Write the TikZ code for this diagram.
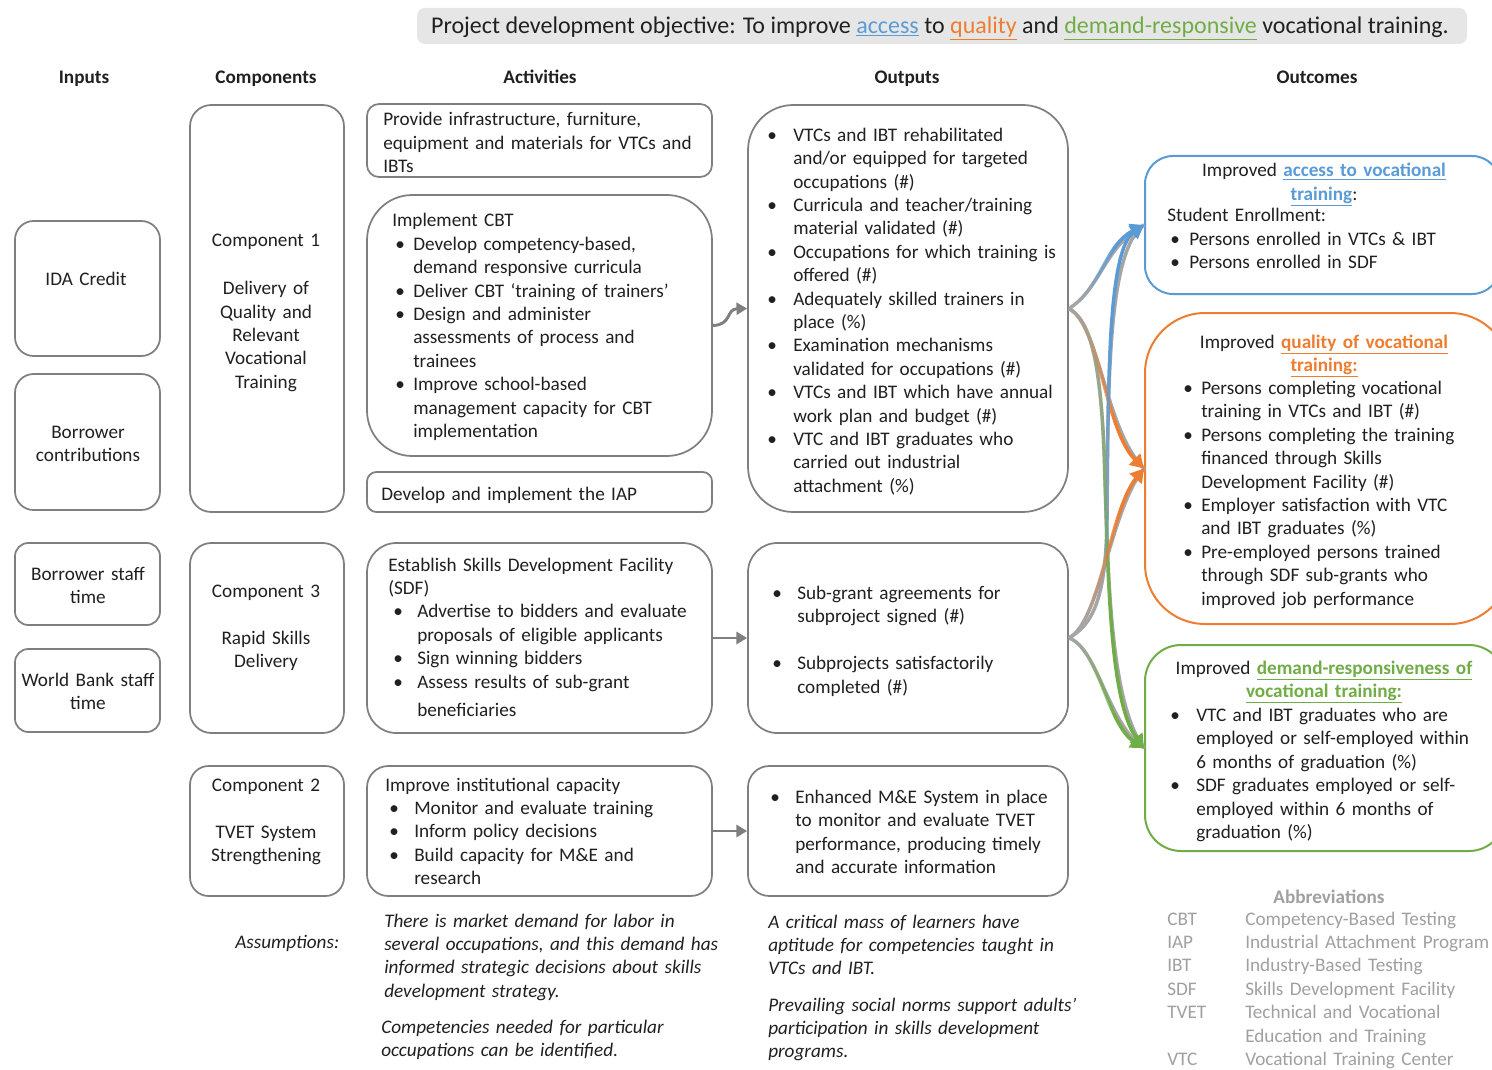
\documentclass[tikz,border=0pt]{standalone}
\usepackage{fontspec}
\setmainfont{Carlito}
\usetikzlibrary{arrows.meta,fit,fadings}
\definecolor{bord}{HTML}{7F7F7F}
\definecolor{curv}{HTML}{A5A5A5}
\definecolor{cblue}{HTML}{5B9BD5}
\definecolor{corange}{HTML}{ED7D31}
\definecolor{cgreen}{HTML}{70AD47}
\definecolor{bannerfill}{HTML}{E7E6E6}
\definecolor{abbrc}{HTML}{A0A0A0}
\definecolor{ink}{HTML}{202020}
\newcommand\fs{\fontsize{14.4}{17.55}\selectfont}
\newcommand\itm[2]{\par\leftskip=#1\relax\noindent\llap{\makebox[#2][l]{\textbullet}}}
\newcommand\gapline[1]{\par\vspace{#1}}
\newcommand\bu[2]{\textcolor{#1}{\textbf{\underline{#2}}}}
% fadings: opaque part of rampA lands at the page bottom of the path, rampB at the page top
\pgfdeclareverticalshading{rampASh}{100bp}{color(0bp)=(pgftransparent!0); color(40bp)=(pgftransparent!0); color(75bp)=(pgftransparent!100); color(100bp)=(pgftransparent!100)}
\pgfdeclarefading{rampA}{\pgfuseshading{rampASh}}
\pgfdeclareverticalshading{rampBSh}{100bp}{color(0bp)=(pgftransparent!100); color(30bp)=(pgftransparent!100); color(62bp)=(pgftransparent!0); color(100bp)=(pgftransparent!0)}
\pgfdeclarefading{rampB}{\pgfuseshading{rampBSh}}
\tikzset{
  box/.style={draw=bord, line width=1.3pt, rounded corners=#1, inner sep=0pt},
  box/.default=10pt,
  ocbox/.style={draw=#1, line width=1.5pt, inner sep=0pt},
  txt/.style={inner sep=0pt, anchor=base west, text width=#1, align=left, font=\fs, text=ink},
  ctxt/.style={inner sep=0pt, anchor=base, text width=#1, align=center, font=\fs, text=ink},
  hdr/.style={inner sep=0pt, anchor=base, font=\fs\bfseries, text=ink},
  garrow/.style={draw=bord, line width=2.2pt, -{Triangle[length=8pt,width=9pt]}},
  gcurve/.style={draw=curv, line width=2.6pt},
  ccurve/.style={draw=#1, line width=2.6pt, -{Triangle[length=10pt,width=11.5pt]}},
}
\begin{document}
\begin{tikzpicture}[x=0.75pt,y=-0.75pt]
\useasboundingbox (0,0) rectangle (1492,1070);
\fill[white] (0,0) rectangle (1492,1070);
\clip (0,0) rectangle (1492,1070);

% banner
\node[fill=bannerfill, rounded corners=6pt, inner sep=0pt, fit={(417,8)(1467,44)}] (ban) {};
\node[inner sep=0pt, font=\fontsize{18}{21}\selectfont, text=ink] (bantxt) at (940,28) {Project development objective: To improve \textcolor{cblue}{\underline{access}} to \textcolor{corange}{\underline{quality}} and \textcolor{cgreen}{\underline{demand-responsive}} vocational training.};

% headers
\node[hdr] (hin) at (84,84) {Inputs};
\node[hdr] (hco) at (266,84) {Components};
\node[hdr] (hac) at (540,84) {Activities};
\node[hdr] (hou) at (907,84) {Outputs};
\node[hdr] (hoc) at (1317,84) {Outcomes};

% inputs
\node[box=14pt, fit={(15,221)(160,356)}] (ida) {};
\node[box=14pt, fit={(15,374)(160,510)}] (bc) {};
\node[box=10pt, fit={(15,543)(160,625)}] (bst) {};
\node[box=10pt, fit={(15,649)(160,732)}] (wbst) {};
\node[ctxt=105pt] (tida) at (86,285) {IDA Credit};
\node[ctxt=105pt] (tbc) at (88,438) {Borrower\\contributions};
\node[ctxt=105pt] (tbst) at (88,580) {Borrower staff\\time};
\node[ctxt=105pt] (twbst) at (88,686) {World Bank staff\\time};

% components
\node[box=16pt, fit={(190,105)(344,512)}] (c1) {};
\node[box=16pt, fit={(190,543)(344,733)}] (c3) {};
\node[box=14pt, fit={(190,766)(344,896)}] (c2) {};
\node[ctxt=112pt] (tc1) at (266,246) {Component 1\\[19pt]Delivery of\\Quality and\\Relevant\\Vocational\\Training};
\node[ctxt=112pt] (tc3) at (266,597) {Component 3\\[17.7pt]Rapid Skills\\Delivery};
\node[ctxt=112pt] (tc2) at (266,791) {Component 2\\[17.7pt]TVET System\\Strengthening};

% activities
\node[box=9pt, fit={(367,104)(712,177)}] (a1) {};
\node[box=34pt, fit={(367,195)(712,456)}] (a2) {};
\node[box=7pt, fit={(367,472)(712,512)}] (a3) {};
\node[box=22pt, fit={(367,543)(712,733)}] (a4) {};
\node[box=16pt, fit={(367,766)(712,896)}] (a5) {};
\node[txt=265pt] (ta1) at (383,126) {Provide infrastructure, furniture,\\equipment and materials for VTCs and\\IBTs};
\node[txt=250pt] (ta2) at (392,227) {Implement CBT
  \itm{15.75pt}{13.5pt}Develop competency-based,\\demand responsive curricula
  \itm{15.75pt}{13.5pt}Deliver CBT ‘training of trainers’
  \itm{15.75pt}{13.5pt}Design and administer\\assessments of process and\\trainees
  \itm{15.75pt}{13.5pt}Improve school-based\\management capacity for CBT\\implementation\par};
\node[txt=250pt] (ta3) at (381,500) {Develop and implement the IAP};
\node[txt=255pt] (ta4) at (388,571) {Establish Skills Development Facility\\(SDF)
  \itm{21.75pt}{18pt}Advertise to bidders and evaluate\\proposals of eligible applicants
  \itm{21.75pt}{18pt}Sign winning bidders
  \itm{21.75pt}{18pt}Assess results of sub-grant\\[3.5pt]beneficiaries\par};
\node[txt=255pt] (ta5) at (385,791) {Improve institutional capacity
  \itm{21.75pt}{18.75pt}Monitor and evaluate training
  \itm{21.75pt}{18.75pt}Inform policy decisions
  \itm{21.75pt}{18.75pt}Build capacity for M\&E and\\research\par};

% outputs
\node[box=34pt, fit={(748,105)(1068,512)}] (o1) {};
\node[box=22pt, fit={(748,543)(1068,733)}] (o2) {};
\node[box=16pt, fit={(748,766)(1068,896)}] (o3) {};
\node[txt=235pt] (to1) at (767,118) {%
  \itm{19.5pt}{19.5pt}VTCs and IBT rehabilitated\\and/or equipped for targeted\\occupations (\#)
  \itm{19.5pt}{19.5pt}Curricula and teacher/training\\material validated (\#)
  \itm{19.5pt}{19.5pt}Occupations for which training is\\offered (\#)
  \itm{19.5pt}{19.5pt}Adequately skilled trainers in\\place (\%)
  \itm{19.5pt}{19.5pt}Examination mechanisms\\validated for occupations (\#)
  \itm{19.5pt}{19.5pt}VTCs and IBT which have annual\\work plan and budget (\#)
  \itm{19.5pt}{19.5pt}VTC and IBT graduates who\\carried out industrial\\attachment (\%)\par};
\node[txt=230pt] (to2) at (772,576) {%
  \itm{18.75pt}{18.75pt}Sub-grant agreements for\\subproject signed (\#)
  \gapline{17.55pt}%
  \itm{18.75pt}{18.75pt}Subprojects satisfactorily\\completed (\#)\par};
\node[txt=230pt] (to3) at (770,780) {%
  \itm{18.75pt}{18.75pt}Enhanced M\&E System in place\\to monitor and evaluate TVET\\performance, producing timely\\and accurate information\par};

% outcomes
\node[ocbox=cblue, rounded corners=21pt, fit={(1145,156)(1500,294)}] (oc1) {};
\node[ocbox=corange, rounded corners=45pt, fit={(1145,313)(1510,624)}] (oc2) {};
\node[ocbox=cgreen, rounded corners=27pt, fit={(1145,645)(1505,851)}] (oc3) {};
\node[ctxt=280pt] (toc1h) at (1324,177) {Improved \bu{cblue}{access to vocational}\\\bu{cblue}{training}:};
\node[txt=250pt] (toc1) at (1167,222) {Student Enrollment:
  \itm{16.5pt}{14.25pt}Persons enrolled in VTCs \& IBT
  \itm{16.5pt}{14.25pt}Persons enrolled in SDF\par};
\node[ctxt=280pt] (toc2h) at (1324,348) {Improved \bu{corange}{quality of vocational}\\\bu{corange}{training:}};
\node[txt=250pt] (toc2) at (1183,371) {%
  \itm{13.5pt}{13.5pt}Persons completing vocational\\training in VTCs and IBT (\#)
  \itm{13.5pt}{13.5pt}Persons completing the training\\financed through Skills\\Development Facility (\#)
  \itm{13.5pt}{13.5pt}Employer satisfaction with VTC\\and IBT graduates (\%)
  \itm{13.5pt}{13.5pt}Pre-employed persons trained\\through SDF sub-grants who\\improved job performance\par};
\node[ctxt=300pt] (toc3h) at (1324,674) {Improved \bu{cgreen}{demand-responsiveness of}\\\bu{cgreen}{vocational training:}};
\node[txt=250pt] (toc3) at (1170,698) {%
  \itm{19.5pt}{19.5pt}VTC and IBT graduates who are\\employed or self-employed within\\6 months of graduation (\%)
  \itm{19.5pt}{19.5pt}SDF graduates employed or self-\\employed within 6 months of\\graduation (\%)\par};

% activity -> output arrows
\draw[garrow] (a2.east) .. controls (732,325) and (726,309) .. (o1.west);
\draw[garrow] (a4.east) -- (o2.west);
\draw[garrow] (a5.east) -- (o3.west);

% output -> outcome curves (gray base)
\draw[gcurve] (o1.east) .. controls (1100,290) and (1105,245) .. (oc1.west);
\draw[gcurve] (o1.east) .. controls (1100,325) and (1105,430) .. (oc2.west);
\draw[gcurve] (o1.east) .. controls (1090,320) and (1100,360) .. (1104,450) .. controls (1108,560) and (1108,700) .. (oc3.west);
\draw[gcurve] (o2.east) .. controls (1092,625) and (1106,600) .. (1107,520) .. controls (1108,380) and (1108,250) .. (oc1.west);
\draw[gcurve] (o2.east) .. controls (1100,622) and (1110,510) .. (oc2.west);
\draw[gcurve] (o2.east) .. controls (1098,648) and (1108,725) .. (oc3.west);
% coloured overlays
\draw[ccurve=cblue, path fading=rampB] (o1.east) .. controls (1100,290) and (1105,245) .. (oc1.west);
\draw[ccurve=corange, path fading=rampA] (o1.east) .. controls (1100,325) and (1105,430) .. (oc2.west);
\draw[ccurve=cgreen, path fading=rampA] (o1.east) .. controls (1090,320) and (1100,360) .. (1104,450) .. controls (1108,560) and (1108,700) .. (oc3.west);
\draw[ccurve=cblue, path fading=rampB] (o2.east) .. controls (1092,625) and (1106,600) .. (1107,520) .. controls (1108,380) and (1108,250) .. (oc1.west);
\draw[ccurve=corange, path fading=rampB] (o2.east) .. controls (1100,622) and (1110,510) .. (oc2.west);
\draw[ccurve=cgreen, path fading=rampA] (o2.east) .. controls (1098,648) and (1108,725) .. (oc3.west);

% assumptions
\node[txt=100pt, font=\fs\itshape] (tass) at (235,948) {Assumptions:};
\node[txt=270pt, font=\fs\itshape] (as1) at (384,927) {There is market demand for labor in\\several occupations, and this demand has\\informed strategic decisions about skills\\development strategy.};
\node[txt=270pt, font=\fs\itshape] (as2) at (381,1033) {Competencies needed for particular\\occupations can be identified.};
\node[txt=270pt, font=\fs\itshape] (as3) at (768,928) {A critical mass of learners have\\aptitude for competencies taught in\\VTCs and IBT.};
\node[txt=270pt, font=\fs\itshape] (as4) at (768,1011) {Prevailing social norms support adults’\\participation in skills development\\programs.};

% abbreviations
\node[hdr, text=abbrc] (abt) at (1329,903) {Abbreviations};
\node[txt=260pt, text=abbrc] (abl) at (1167,925) {%
  \makebox[58.5pt][l]{CBT}Competency-Based Testing\\
  \makebox[58.5pt][l]{IAP}Industrial Attachment Program\\
  \makebox[58.5pt][l]{IBT}Industry-Based Testing\\
  \makebox[58.5pt][l]{SDF}Skills Development Facility\\
  \makebox[58.5pt][l]{TVET}Technical and Vocational\\
  \hspace*{58.5pt}Education and Training\\
  \makebox[58.5pt][l]{VTC}Vocational Training Center};
\end{tikzpicture}
\end{document}
